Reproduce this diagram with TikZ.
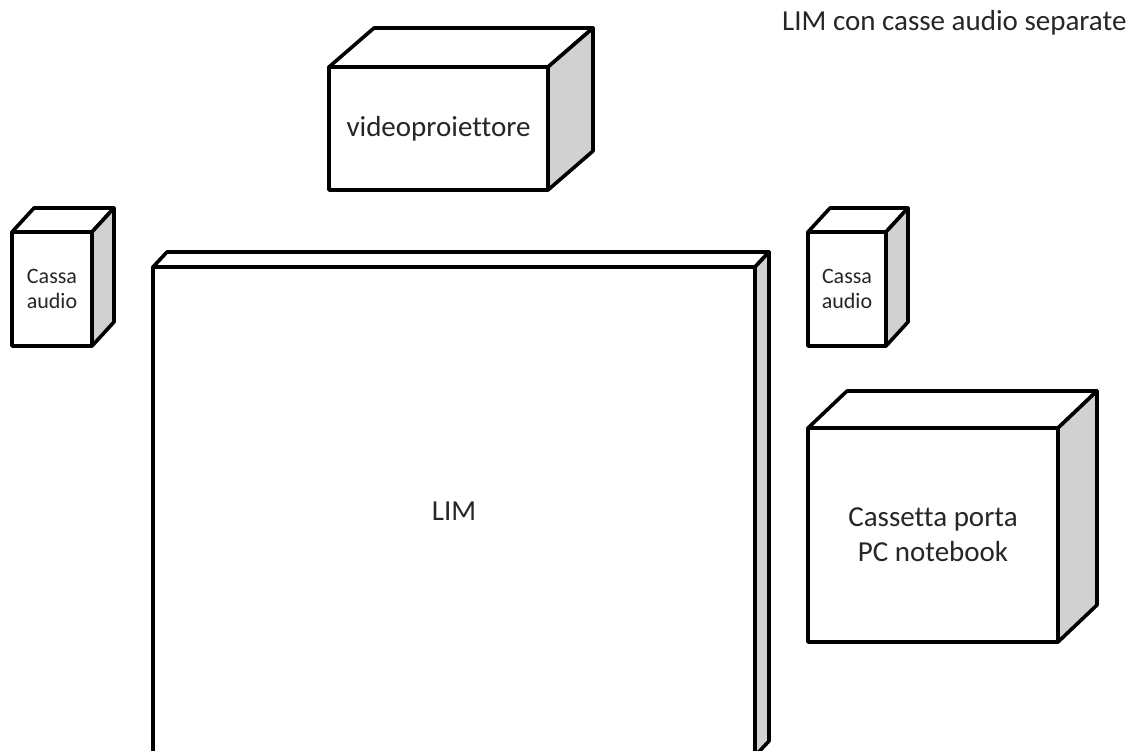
\documentclass[tikz,border=0pt]{standalone}
\usepackage{fontspec}
\setmainfont{Carlito}[Ligatures=NoCommon]
\usepackage{tikz}
\definecolor{sidegray}{rgb}{0.82,0.82,0.82}
\definecolor{textgray}{rgb}{0.15,0.15,0.15}

\begin{document}
\begin{tikzpicture}[x=1pt, y=-1pt,
    face/.style = {draw, rectangle, fill=white, line width=3.6pt, line join=round, inner sep=0pt, outer sep=0pt,
      align=center, text=textgray, font=\fontsize{29}{35}\selectfont},
    small/.style = {font=\fontsize{22}{25}\selectfont},
    topface/.style = {draw, fill=white, line width=3.6pt, line join=round},
    sideface/.style = {draw, fill=sidegray, line width=3.6pt, line join=round}
    ]
    \useasboundingbox (0,0) rectangle (1138,751);
    % front faces
    \node[face, minimum width=602pt, minimum height=489pt] (lim) at (454,511.5) {LIM};
    \node[face, minimum width=219pt, minimum height=123pt] (proj) at (438.5,128.5) {videoproiettore};
    \node[face, small, minimum width=80pt, minimum height=114pt] (cassaL) at (52,289) {Cassa\\audio};
    \node[face, small, minimum width=78pt, minimum height=114pt] (cassaR) at (847,289) {Cassa\\audio};
    \node[face, minimum width=250pt, minimum height=214pt] (cassetta) at (933,535) {Cassetta porta\\PC notebook};
    \node[text=textgray, font=\fontsize{29}{35}\selectfont, anchor=east] (title) at (1130,23) {LIM con casse audio separate};
    % top and side faces
    \foreach \n/\dx/\dy in {cassaL/22/-24, proj/45/-39, lim/14/-15, cassaR/22/-24, cassetta/39/-37} {
      \draw[topface] (\n.north west) -- ++(\dx,\dy) -- ([shift={(\dx,\dy)}]\n.north east) -- (\n.north east) -- cycle;
      \draw[sideface] (\n.north east) -- ++(\dx,\dy) -- ([shift={(\dx,\dy)}]\n.south east) -- (\n.south east) -- cycle;
    }
\end{tikzpicture}
\end{document}
